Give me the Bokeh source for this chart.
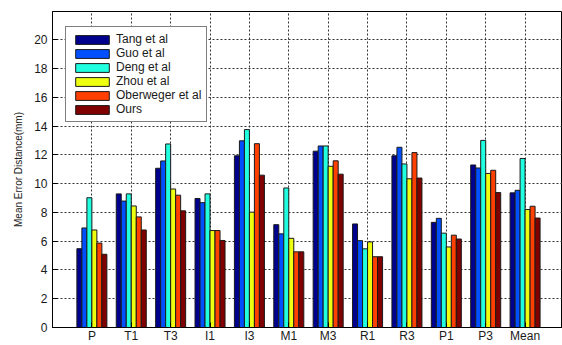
from bokeh.plotting import figure
from bokeh.models import (ColumnDataSource, Range1d, FixedTicker, Legend, LegendItem)
from bokeh.transform import dodge
from bokeh.embed import file_html
from bokeh.resources import INLINE

# Joint groups and per-method mean error distance (mm)
categories = ["P", "T1", "T3", "I1", "I3", "M1", "M3", "R1", "R3", "P1", "P3", "Mean"]
tang = [5.48, 9.29, 11.07, 8.97, 11.94, 7.15, 12.26, 7.20, 11.94, 7.31, 11.30, 9.36]
guo = [6.92, 8.79, 11.58, 8.68, 12.98, 6.51, 12.62, 6.04, 12.53, 7.59, 11.09, 9.54]
deng = [9.02, 9.29, 12.76, 9.29, 13.76, 9.70, 12.62, 5.47, 11.37, 6.56, 13.01, 11.75]
zhou = [6.78, 8.45, 9.63, 6.74, 8.02, 6.20, 11.21, 5.95, 10.34, 5.60, 10.71, 8.20]
oberweger = [5.87, 7.69, 9.20, 6.74, 12.78, 5.26, 11.59, 4.92, 12.16, 6.42, 10.93, 8.43]
ours = [5.09, 6.78, 8.11, 6.05, 10.59, 5.26, 10.66, 4.92, 10.39, 6.15, 9.38, 7.61]

series_names = ["Tang et al", "Guo et al", "Deng et al", "Zhou et al", "Oberweger et al", "Ours"]
series_values = [tang, guo, deng, zhou, oberweger, ours]
colors = ["#00008F", "#0050FF", "#20FFE0", "#EFFF10", "#FF4000", "#800000"]
y_ticks = [0, 2, 4, 6, 8, 10, 12, 14, 16, 18, 20]

positions = list(range(1, len(categories) + 1))
data = {"x": positions}
for i, vals in enumerate(series_values):
    data[f"s{i}"] = vals
source = ColumnDataSource(data)

p = figure(width=562, height=345, output_backend="svg", toolbar_location=None,
           x_range=Range1d(0, 12.95), y_range=Range1d(0, 21.97),
           min_border_left=52, min_border_top=11, min_border_right=0,
           min_border_bottom=0)
p.background_fill_color = "white"
p.border_fill_color = "white"
p.outline_line_color = "black"
p.outline_line_width = 1

bar_w = 0.127
renderers = []
for i, (name, col) in enumerate(zip(series_names, colors)):
    off = (i - 2.5) * bar_w
    r = p.vbar(x=dodge("x", off), top=f"s{i}", width=bar_w, bottom=0,
               source=source, fill_color=col, line_color="#1a1a1a", line_width=1)
    renderers.append((name, r))

# axes
p.xaxis.ticker = FixedTicker(ticks=positions)
p.xaxis.major_label_overrides = {pos: c for pos, c in zip(positions, categories)}
p.yaxis.ticker = FixedTicker(ticks=y_ticks)
for ax in (p.xaxis[0], p.yaxis[0]):
    ax.major_tick_in = 5
    ax.major_tick_out = 0
    ax.minor_tick_in = 0
    ax.minor_tick_out = 0
    ax.axis_line_color = "black"
    ax.major_tick_line_color = "black"
    ax.major_label_text_font = "Liberation Sans"
    ax.major_label_text_font_size = "12px"
    ax.major_label_text_color = "#1a1a1a"
p.xaxis.major_label_standoff = 1
p.yaxis.major_label_standoff = 5
p.yaxis.axis_label = "Mean Error Distance(mm)"
p.yaxis.axis_label_text_font = "Liberation Sans"
p.yaxis.axis_label_text_font_size = "10px"
p.yaxis.axis_label_text_font_style = "normal"
p.yaxis.axis_label_text_color = "#222222"
p.yaxis.axis_label_standoff = 7

# dotted grid
for g in (p.xgrid[0], p.ygrid[0]):
    g.grid_line_color = "#333333"
    g.grid_line_dash = "2 2"
    g.grid_line_width = 1

legend = Legend(items=[LegendItem(label=n, renderers=[r]) for n, r in renderers],
                location=(13, 205))
legend.glyph_width = 42
legend.glyph_height = 11
legend.label_standoff = 3
legend.spacing = 0
legend.padding = 5
legend.margin = 0
legend.label_text_font = "Liberation Sans"
legend.label_text_font_size = "12px"
legend.label_text_color = "#1a1a1a"
legend.border_line_color = "black"
legend.border_line_width = 1
legend.background_fill_color = "white"
legend.background_fill_alpha = 1
p.add_layout(legend, "center")

open("out.html", "w").write(file_html(p, INLINE))
